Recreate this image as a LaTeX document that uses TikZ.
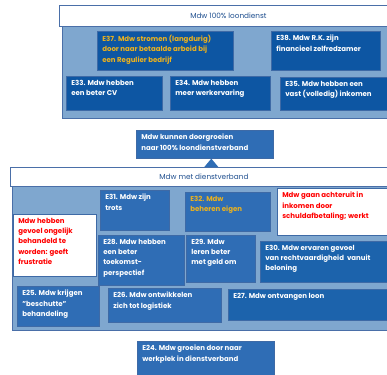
\documentclass[tikz,border=0pt]{standalone}
\usepackage{fontspec}
\setmainfont{Poppins}
\usetikzlibrary{positioning}

\definecolor{paleblue}{HTML}{7FA7CF}
\definecolor{frameblue}{HTML}{4A6FA8}
\definecolor{headblue}{HTML}{1F4F8F}
\definecolor{darkblue}{HTML}{0D56A3}
\definecolor{cellblue}{HTML}{2F6DB5}
\definecolor{deepblue}{HTML}{1C63AC}
\definecolor{celledge}{HTML}{3E6AA6}
\definecolor{goldtext}{HTML}{EDB21C}

% text block of a cell: width, height, lines
\newcommand{\celltext}[3]{\parbox[t][#2pt][t]{#1pt}{\raggedright #3}}

\begin{document}
\begin{tikzpicture}[
		x=1pt, y=-1pt,
		frame/.style={
			draw=frameblue,
			line width=0.9pt,
			fill=paleblue,
			anchor=north west,
			inner sep=0pt
		},
		header/.style={
			draw=frameblue,
			line width=0.9pt,
			fill=white,
			text=headblue,
			anchor=north west,
			inner sep=0pt,
			font=\fontsize{7.3}{9}\selectfont
		},
		cell/.style={
			draw=celledge,
			line width=0.6pt,
			fill=cellblue,
			text=white,
			anchor=north west,
			inner xsep=5pt,
			inner ysep=4pt,
			font=\fontsize{7}{10.2}\selectfont\bfseries
		},
		dark/.style={cell, fill=darkblue},
		deep/.style={cell, fill=deepblue},
		note/.style={cell, fill=white, text=red},
		gold/.style={text=goldtext}
	]

	\useasboundingbox (0,0) rectangle (387,374);
	\clip (0,0) rectangle (387,374);

	% 100% loondienst
	\node[frame, minimum width=360pt, minimum height=92pt] (topframe) at (62,26) {};
	\node[header, minimum width=338pt, minimum height=21pt] (tophead) at (59,5) {Mdw 100\% loondienst};
	\draw[frameblue, line width=0.9pt] (tophead.north east) -- ++(30,0);

	\node[dark, gold] (e37) at (97,31) {\celltext{126}{31}{E37. Mdw stromen (langdurig)\\door naar betaalde arbeid bij\\een Regulier bedrijf}};
	\node[dark] (e38) at (271,31) {\celltext{99}{31}{E38. Mdw R.K. zijn\\financieel zelfredzamer}};
	\node[dark] (e33) at (66,76) {\celltext{86}{26}{E33. Mdw hebben\\een beter CV}};
	\node[dark] (e34) at (170,76) {\celltext{90}{26}{E34. Mdw hebben\\meer werkervaring}};
	\node[dark] (e35) at (280,77) {\celltext{120}{25}{E35. Mdw hebben een\\vast (volledig) inkomen}};

	% doorgroeien
	\node[cell] (grow) at (136,130) {\celltext{127}{20}{Mdw kunnen doorgroeien\\naar 100\% loondienstverband}};
	\coordinate (tip) at ([xshift=6.5pt]grow.south);

	% met dienstverband
	\node[frame, minimum width=410pt, minimum height=144pt] (lowframe) at (12,186) {};
	\node[header, minimum width=387pt, minimum height=19pt] (lowhead) at (10,167) {Mdw met dienstverband};
	\draw[frameblue, line width=0.9pt] (lowhead.north east) -- ++(30,0);
	\fill[cellblue] (tip) -- ([xshift=-7pt]tip |- lowhead.north) -- ([xshift=7pt]tip |- lowhead.north) -- cycle;

	\node[cell] (e31) at (100,190) {\celltext{59}{32}{E31. Mdw zijn\\trots}};
	\node[cell, gold] (e32) at (185,192) {\celltext{75}{31}{E32. Mdw\\beheren eigen}};
	\node[note] (debt) at (277,188) {\celltext{120}{39}{Mdw gaan achteruit in\\inkomen door\\schuldafbetaling; werkt}};
	\node[note] (unfair) at (13,214) {\celltext{73}{54}{Mdw hebben\\gevoel ongelijk\\behandeld te\\worden: geeft\\frustratie}};
	\node[cell] (e28) at (98,235) {\celltext{76}{42}{E28. Mdw hebben\\een beter\\toekomst-\\perspectief}};
	\node[cell] (e29) at (186,235) {\celltext{59}{39}{E29. Mdw\\leren beter\\met geld om}};
	\node[deep] (e30) at (260,241) {\celltext{140}{33}{E30. Mdw ervaren gevoel\\van rechtvaardigheid\ \ vanuit\\beloning}};
	\node[cell] (e25) at (17,286) {\celltext{72}{32}{E25. Mdw krijgen\\"beschutte"\\behandeling}};
	\node[cell] (e26) at (108,288) {\celltext{103}{26}{E26. Mdw ontwikkelen\\zich tot logistiek}};
	\node[deep] (e27) at (228,289) {\celltext{170}{23}{E27. Mdw ontvangen loon}};

	% werkplek
	\node[cell] (e24) at (137,341) {\celltext{127}{30}{E24. Mdw groeien door naar\\werkplek in dienstverband}};

\end{tikzpicture}
\end{document}
